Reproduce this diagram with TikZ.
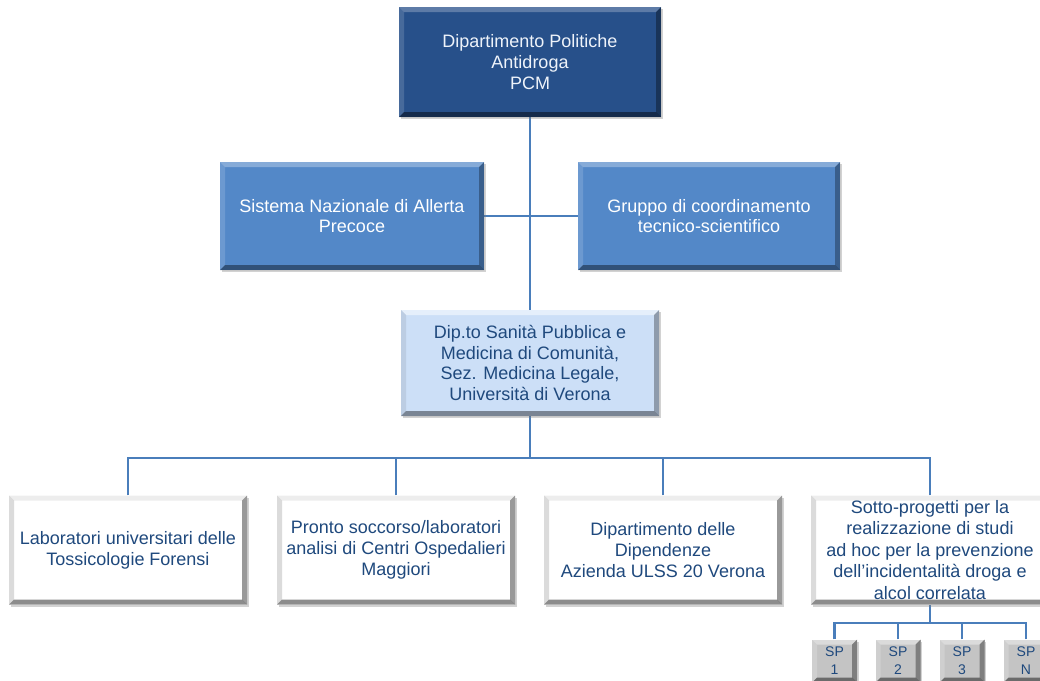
\documentclass[tikz,border=0pt]{standalone}
\usepackage{fontspec}
\setmainfont{Liberation Sans}
\usetikzlibrary{shadows,backgrounds}
\definecolor{navy}{HTML}{27508A}
\definecolor{midblue}{HTML}{5388C8}
\definecolor{paleblue}{HTML}{CCDFF7}
\definecolor{linkblue}{HTML}{4A7EBB}
\definecolor{darktext}{HTML}{1F497D}
\definecolor{lighttext}{HTML}{EEF3FA}
\definecolor{spgray}{HTML}{C4C4C4}
\newlength\bvw
\setlength\bvw{5pt}
\tikzset{
  bev/.style n args={4}{path picture={
    \path (path picture bounding box.north west) coordinate (bNW)
          (path picture bounding box.north east) coordinate (bNE)
          (path picture bounding box.south west) coordinate (bSW)
          (path picture bounding box.south east) coordinate (bSE);
    \path ([xshift=\bvw,yshift=-\bvw]bNW) coordinate (iNW)
          ([xshift=-\bvw,yshift=-\bvw]bNE) coordinate (iNE)
          ([xshift=\bvw,yshift=\bvw]bSW) coordinate (iSW)
          ([xshift=-\bvw,yshift=\bvw]bSE) coordinate (iSE);
    \fill[#1] (bNW) -- (bNE) -- (iNE) -- (iNW) -- cycle;
    \fill[#2] (bNW) -- (iNW) -- (iSW) -- (bSW) -- cycle;
    \fill[#3] (bNE) -- (bSE) -- (iSE) -- (iNE) -- cycle;
    \fill[#4] (bSW) -- (iSW) -- (iSE) -- (bSE) -- cycle;
  }},
  box/.style={rectangle, inner sep=0pt, align=center,
    font=\fontsize{18}{20.7}\selectfont,
    drop shadow={shadow xshift=1.5pt, shadow yshift=-2pt, opacity=0.35}},
  darkbox/.style={box, fill=navy, text=lighttext,
    bev={white,opacity=0.25}{white,opacity=0.15}{black,opacity=0.35}{black,opacity=0.45}},
  midbox/.style={box, fill=midblue, text=white,
    bev={white,opacity=0.3}{white,opacity=0.15}{black,opacity=0.3}{black,opacity=0.4}},
  palebox/.style={box, fill=paleblue, text=darktext,
    bev={white,opacity=0.5}{black,opacity=0.08}{black,opacity=0.3}{black,opacity=0.4}},
  whitebox/.style={box, fill=white, text=darktext,
    bev={black,opacity=0.07}{black,opacity=0.14}{black,opacity=0.4}{black,opacity=0.45}},
  spbox/.style={box, fill=spgray, text=darktext, font=\fontsize{14}{18}\selectfont,
    minimum width=45pt, minimum height=43pt,
    bev={white,opacity=0.4}{white,opacity=0.2}{black,opacity=0.35}{black,opacity=0.45}},
  link/.style={draw=linkblue, line width=2.4pt}
}
\begin{document}
\begin{tikzpicture}[x=1pt,y=-1pt]
\useasboundingbox (0,0) rectangle (1040,680);

\coordinate (bus) at (530,458);
\coordinate (sbus) at (930,623);

% nodes
\node[darkbox, minimum width=262pt, minimum height=110pt] (top) at (530,62)
  {Dipartimento Politiche\\Antidroga\\PCM};
\node[midbox, minimum width=264pt, minimum height=108pt] (snap) at (352,216)
  {Sistema Nazionale di Allerta\\Precoce};
\node[midbox, minimum width=262pt, minimum height=108pt] (gct) at (709,216)
  {Gruppo di coordinamento\\tecnico-scientifico};
\node[palebox, minimum width=258pt, minimum height=106pt] (dip) at (530,363)
  {Dip.to Sanità Pubblica e\\Medicina di Comunità,\\Sez. Medicina Legale,\\Università di Verona};
\node[whitebox, minimum width=238pt, minimum height=109pt] (b1) at (128,550)
  {Laboratori universitari delle\\Tossicologie Forensi};
\node[whitebox, minimum width=238pt, minimum height=109pt] (b2) at (396,550)
  {Pronto soccorso/laboratori\\analisi di Centri Ospedalieri\\Maggiori};
\node[whitebox, minimum width=238pt, minimum height=109pt] (b3) at (663,550)
  {Dipartimento delle\\Dipendenze\\Azienda ULSS 20 Verona};
\node[whitebox, minimum width=238pt, minimum height=109pt, font=\fontsize{18}{21.5}\selectfont] (b4) at (930,550)
  {Sotto-progetti per la\\realizzazione di studi\\ad hoc per la prevenzione\\dell’incidentalità droga e\\alcol correlata};
\node[spbox] (sp1) at (834.5,661) {SP\\1};
\node[spbox] (sp2) at (898,661) {SP\\2};
\node[spbox] (sp3) at (962,661) {SP\\3};
\node[spbox] (spn) at (1026,661) {SP\\N};

% connectors
\begin{scope}[on background layer]
  \fill[white] (0,0) rectangle (1040,680);
  \draw[link] (top.south) -- (dip.north);
  \draw[link] (snap.east) -- (gct.west);
  \draw[link] (dip.south) -- (bus);
  \draw[link] (b1.north) |- (bus);
  \draw[link] (b2.north) |- (bus);
  \draw[link] (b3.north) |- (bus);
  \draw[link] (b4.north) |- (bus);
  \draw[link] (b4.south) -- (sbus);
  \draw[link] (sp1.north) |- (sbus);
  \draw[link] (sp2.north) |- (sbus);
  \draw[link] (sp3.north) |- (sbus);
  \draw[link] (spn.north) |- (sbus);
\end{scope}
\end{tikzpicture}
\end{document}
